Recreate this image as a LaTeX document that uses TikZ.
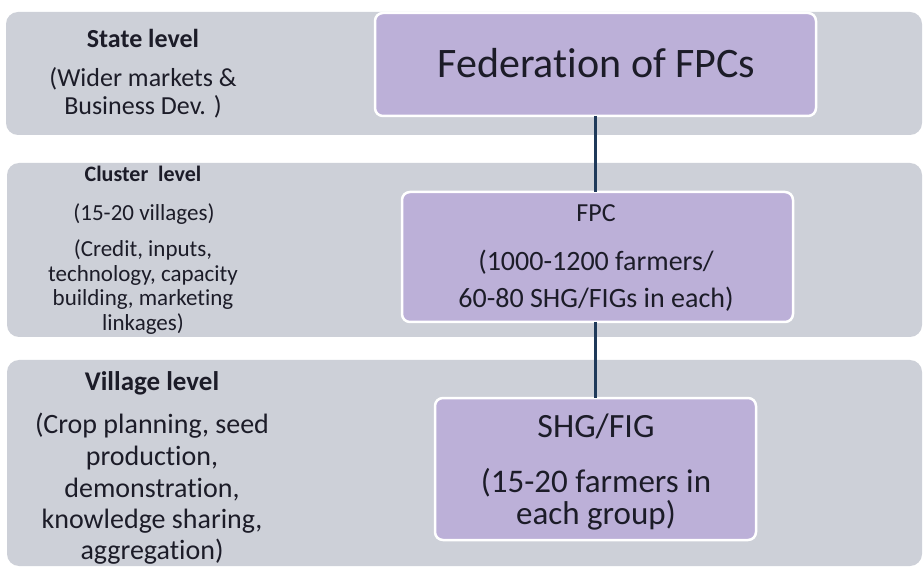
\documentclass[tikz,border=0pt]{standalone}
\usepackage{fontspec}
\setmainfont[Ligatures=NoCommon]{Carlito}
\definecolor{bandgrey}{HTML}{CDD0D8}
\definecolor{boxpurple}{HTML}{BCB0D8}
\definecolor{linknavy}{HTML}{1F3A5A}
\definecolor{ink}{HTML}{1C1C28}
\begin{document}
\begin{tikzpicture}[x=1pt,y=-1pt,
  band/.style={fill=bandgrey, draw=none, rounded corners=12pt, inner sep=0pt, outer sep=0pt},
  box/.style={fill=boxpurple, draw=white, line width=2.5pt, rounded corners=8pt, inner sep=0pt, outer sep=0pt},
  lbl/.style={anchor=base, inner sep=0pt, outer sep=0pt, text=ink},
  conn/.style={draw=linknavy, line width=3.2pt},
  fs/.style={font=\fontsize{#1}{#1}\selectfont},
  fb/.style={font=\fontsize{#1}{#1}\selectfont\bfseries}]
\useasboundingbox[fill=white] (0,0) rectangle (924,569);

% level bands
\node[band, minimum width=916pt, minimum height=123pt] (stateband) at (464,73.5) {};
\node[band, minimum width=915pt, minimum height=174pt] (clusterband) at (464.5,250) {};
\node[band, minimum width=915pt, minimum height=206pt] (villageband) at (464.5,463) {};

% hierarchy boxes
\node[box, minimum width=441pt, minimum height=103pt] (fed) at (595.5,64.5) {};
\node[box, minimum width=391pt, minimum height=130pt] (fpc) at (597.5,257) {};
\node[box, minimum width=321pt, minimum height=142pt] (shg) at (595.5,469) {};

% connectors
\draw[conn] (fed.south) -- (fed.south |- fpc.north);
\draw[conn] (fed.south |- fpc.south) -- (fed.south |- shg.north);

% box texts
\node[lbl, fs=42] (fedt) at (596.5,78) {Federation of FPCs};
\node[lbl, fs=26] (fpct1) at (596,222) {FPC};
\node[lbl, fs=28] (fpct2) at (596,271) {(1000-1200 farmers/};
\node[lbl, fs=28] (fpct3) at (596,308) {60-80 SHG/FIGs in each)};
\node[lbl, fs=34] (shgt1) at (596,437) {SHG/FIG};
\node[lbl, fs=33] (shgt2) at (596,492) {(15-20 farmers in};
\node[lbl, fs=33] (shgt3) at (596,524) {each group)};

% state level
\node[lbl, fb=26] (st1) at (143,48) {State level};
\node[lbl, fs=26] (st2) at (143,87) {(Wider markets \&};
\node[lbl, fs=26] (st3) at (143,115) {Business Dev. )};

% cluster level
\node[lbl, fb=22] (cl1) at (143,182) {Cluster~~level};
\node[lbl, fs=23] (cl2) at (144,221) {(15-20 villages)};
\node[lbl, fs=23] (cl3) at (143,257) {(Credit, inputs,};
\node[lbl, fs=23] (cl4) at (143,282) {technology, capacity};
\node[lbl, fs=23] (cl5) at (143,306) {building, marketing};
\node[lbl, fs=23] (cl6) at (143,331) {linkages)};

% village level
\node[lbl, fb=27] (vl1) at (152,390) {Village level};
\node[lbl, fs=28] (vl2) at (152,433) {(Crop planning, seed};
\node[lbl, fs=28] (vl3) at (152,465) {production,};
\node[lbl, fs=28] (vl4) at (152,497) {demonstration,};
\node[lbl, fs=28] (vl5) at (152,528) {knowledge sharing,};
\node[lbl, fs=28] (vl6) at (152,559) {aggregation)};
\end{tikzpicture}
\end{document}
